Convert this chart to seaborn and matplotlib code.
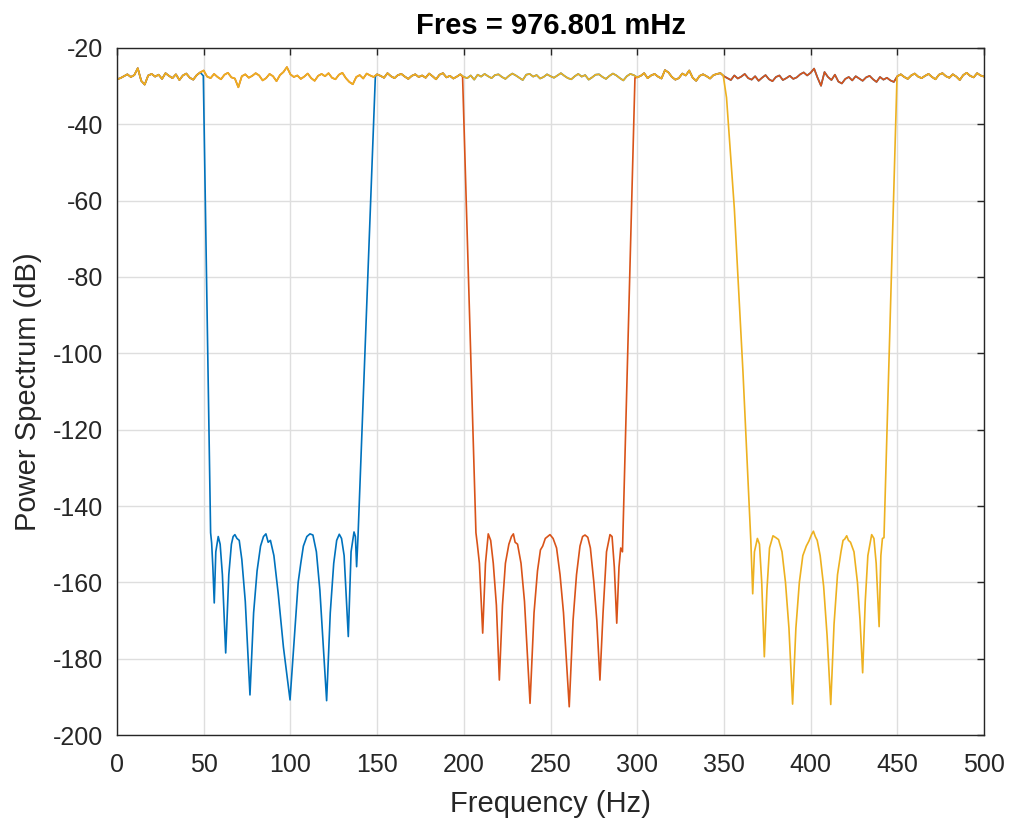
import numpy as np
import pandas as pd
import matplotlib
matplotlib.use('Agg')
import matplotlib.pyplot as plt
import seaborn as sns

# passband noise floor shared by the three filtered signals (dB), 0..500 Hz every 2 Hz
noise_db = [
    -28.2, -27.9, -27.4, -26.9, -27.6, -27.1, -25.3, -28.6, -29.6, -27.2,
    -26.8, -27.5, -27.0, -28.1, -26.6, -27.3, -27.9, -26.9, -28.4, -27.2,
    -26.7, -27.8, -28.3, -27.1, -26.4, -25.9, -27.5, -27.9, -26.8, -27.6,
    -28.2, -27.0, -26.5, -27.7, -28.0, -30.3, -27.4, -26.9, -27.8, -27.3,
    -26.6, -27.2, -28.5, -27.9, -26.8, -27.4, -28.7, -27.1, -26.3, -25.0,
    -26.9, -27.6, -27.2, -28.1, -27.5, -26.7, -27.9, -28.6, -27.3, -26.8,
    -27.4, -26.6, -27.8, -28.2, -27.0, -26.5, -27.9, -28.9, -29.5, -27.6,
    -27.1, -28.0, -26.7, -27.2, -27.6, -26.9, -27.3, -27.8, -26.6, -27.4,
    -27.9, -27.1, -26.8, -27.5, -28.1, -27.3, -26.9, -27.6, -27.2, -27.8,
    -26.7, -27.4, -28.2, -27.0, -26.6, -27.7, -27.3, -28.0, -27.5, -26.9,
    -27.6, -27.9, -27.2, -28.3, -27.0, -27.5, -26.8, -27.4, -27.9, -27.1,
    -26.9, -27.6, -28.1, -27.3, -26.7, -27.2, -27.8, -28.4, -27.0, -26.8,
    -27.5, -27.1, -28.0, -27.6, -26.9, -27.4, -27.8, -27.2, -26.6, -27.3,
    -27.9, -28.2, -27.4, -26.8, -27.5, -27.1, -28.3, -27.7, -27.0, -26.9,
    -27.6, -28.1, -27.3, -26.7, -27.2, -27.9, -28.5, -27.4, -26.8, -27.1,
    -27.7, -27.3, -26.6, -27.9, -27.2, -26.8, -27.5, -28.0, -25.8, -26.4,
    -27.6, -28.3, -27.9, -26.7, -27.2, -25.9, -27.8, -28.6, -27.3, -26.9,
    -27.4, -28.0, -27.1, -26.8, -26.6, -27.4, -27.9, -28.4, -27.2, -28.0,
    -27.5, -26.8, -27.9, -28.3, -27.4, -28.6, -27.8, -27.1, -28.2, -28.7,
    -27.6, -27.2, -28.4, -27.9, -27.3, -28.1, -27.7, -26.9, -26.4, -27.2,
    -26.5, -25.4, -27.8, -29.9, -26.3, -27.6, -28.4, -27.0, -28.8, -29.3,
    -28.1, -27.6, -28.5, -27.4, -28.0, -28.6, -27.7, -27.3, -28.2, -28.9,
    -27.6, -28.3, -27.8, -28.5, -28.9, -27.4, -26.9, -27.6, -28.1, -27.2,
    -26.7, -27.5, -27.9, -27.3, -26.8, -27.6, -28.2, -27.0, -26.6, -27.4,
    -27.8, -26.9, -27.5, -28.4, -27.1, -26.5, -27.3, -27.7, -26.6, -27.2,
    -27.5,
]

# stopband of each filter (frequency in Hz, level in dB)
blue_stop_f = [
    49.8, 54.0, 54.6, 55.3, 56.1, 57.0, 58.4, 59.5, 60.8, 62.7,
    64.5, 66.0, 67.0, 68.0, 69.2, 70.5, 72.0, 74.0, 76.7, 78.8,
    80.8, 82.8, 84.5, 85.9, 87.2, 88.5, 90.5, 93.0, 96.0, 99.8,
    102.5, 104.5, 106.0, 107.5, 109.5, 111.3, 113.0, 115.0, 117.0, 120.9,
    123.0, 125.0, 126.7, 128.2, 129.5, 131.0, 133.4, 135.0, 136.7, 137.5,
    138.2, 139.0, 149.0,
]
blue_stop_db = [
    -27.3, -147.0, -149.7, -156.0, -165.4, -152.0, -148.0, -150.0, -158.0, -178.5,
    -158.0, -150.0, -148.0, -147.5, -148.5, -149.0, -154.0, -165.0, -189.5, -168.0,
    -157.0, -150.5, -148.0, -147.3, -149.5, -149.0, -153.0, -163.0, -177.0, -190.8,
    -173.0, -160.0, -155.0, -150.5, -148.0, -147.3, -147.6, -152.0, -162.0, -191.0,
    -168.0, -155.0, -149.0, -147.4, -148.5, -153.0, -174.2, -152.0, -146.8, -148.0,
    -155.9, -148.0, -27.5,
]
orange_stop_f = [
    199.3, 207.0, 207.8, 209.0, 210.9, 212.5, 214.1, 215.5, 217.0, 218.8,
    220.5, 222.3, 224.0, 226.0, 227.5, 228.6, 229.6, 231.0, 233.0, 235.0,
    238.2, 240.5, 242.5, 244.2, 245.5, 247.0, 249.7, 251.5, 253.5, 255.5,
    257.5, 260.8, 263.0, 265.0, 267.0, 268.5, 269.9, 271.5, 273.0, 275.0,
    276.7, 278.5, 280.3, 282.3, 284.3, 285.5, 286.8, 288.2, 289.5, 290.5,
    291.5, 298.7,
]
orange_stop_db = [
    -27.5, -147.0, -150.0, -155.0, -173.3, -155.0, -147.3, -149.0, -155.0, -166.0,
    -185.6, -166.0, -155.0, -150.0, -148.0, -147.3, -149.5, -150.0, -155.0, -165.0,
    -191.7, -168.0, -157.0, -151.5, -150.5, -148.5, -147.5, -148.5, -151.0, -158.0,
    -168.0, -192.6, -170.0, -158.0, -150.5, -148.0, -147.6, -148.2, -151.0, -160.0,
    -170.0, -185.6, -168.0, -152.0, -147.5, -148.0, -156.0, -170.7, -156.0, -151.0,
    -152.0, -27.8,
]
yellow_stop_f = [
    349.6, 351.5, 356.0, 361.0, 365.5, 366.6, 367.6, 369.3, 370.5, 371.8,
    373.3, 374.8, 376.3, 378.3, 380.0, 381.5, 383.5, 385.5, 387.5, 389.6,
    391.5, 393.5, 395.5, 397.5, 399.0, 400.5, 401.6, 402.7, 403.8, 405.5,
    407.5, 409.5, 411.6, 413.5, 415.5, 417.5, 418.7, 419.6, 420.8, 421.8,
    423.0, 425.0, 427.0, 428.5, 430.0, 431.5, 433.0, 435.2, 436.5, 437.8,
    439.5, 440.5, 441.4, 442.3, 449.8,
]
yellow_stop_db = [
    -27.2, -33.0, -62.0, -105.0, -149.0, -163.0, -152.0, -148.5, -150.0, -160.0,
    -179.5, -162.0, -151.0, -147.8, -148.3, -148.8, -152.0, -160.0, -172.0, -191.9,
    -172.0, -160.0, -153.0, -150.5, -149.2, -147.5, -146.6, -148.0, -149.0, -153.0,
    -161.0, -174.0, -192.0, -171.0, -158.0, -152.0, -149.0, -148.7, -147.8, -149.0,
    -149.5, -152.0, -160.0, -170.0, -183.7, -165.0, -153.0, -147.5, -148.5, -155.0,
    -171.6, -153.0, -148.5, -148.3, -27.8,
]

noise_f = np.arange(0, 501, 2)
noise = pd.DataFrame({'freq': noise_f, 'db': noise_db})


def build_series(stop_f, stop_db, name):
    # noise outside the stopband + the stopband itself
    outside = noise[(noise['freq'] < stop_f[0]) | (noise['freq'] > stop_f[-1])]
    stop = pd.DataFrame({'freq': stop_f, 'db': stop_db})
    out = pd.concat([outside, stop]).sort_values('freq')
    out['band'] = name
    return out


df = pd.concat([
    build_series(blue_stop_f, blue_stop_db, 'b1'),
    build_series(orange_stop_f, orange_stop_db, 'b2'),
    build_series(yellow_stop_f, yellow_stop_db, 'b3'),
], ignore_index=True)

sns.set_style('white')
plt.rcParams['font.family'] = ['Liberation Sans', 'DejaVu Sans']
plt.rcParams['axes.unicode_minus'] = False

fig = plt.figure(figsize=(10.1, 8.23), dpi=100)
ax = fig.add_axes([0.1158, 0.1069, 0.9743 - 0.1158, 0.9417 - 0.1069])

sns.lineplot(data=df, x='freq', y='db', hue='band',
             palette=['#0072BD', '#D95319', '#EDB120'],
             estimator=None, sort=False, linewidth=1.2, legend=False, ax=ax)

ax.set_xlim(0, 500)
ax.set_ylim(-200, -20)
ax.set_xticks(range(0, 501, 50))
ax.set_yticks(range(-200, -19, 20))
ax.grid(True, color='#dedede', linewidth=1.0)
ax.set_axisbelow(True)

tc = '#262626'
for s in ax.spines.values():
    s.set_color(tc)
    s.set_linewidth(1.0)
ax.tick_params(direction='in', length=5, width=1.0, color=tc, labelcolor=tc,
               labelsize=18, top=True, right=True)
ax.tick_params(axis='x', pad=13)
ax.tick_params(axis='y', pad=10)

ax.set_xlabel('Frequency (Hz)', fontsize=21, color=tc)
ax.set_ylabel('Power Spectrum (dB)', fontsize=21, color=tc)
ax.xaxis.set_label_coords(0.5, -0.08)
ax.yaxis.set_label_coords(-0.087, 0.5)
ax.set_title('Fres = 976.801 mHz', fontsize=21, fontweight='bold', color='black', pad=10)

fig.savefig('out.png', dpi=100)
